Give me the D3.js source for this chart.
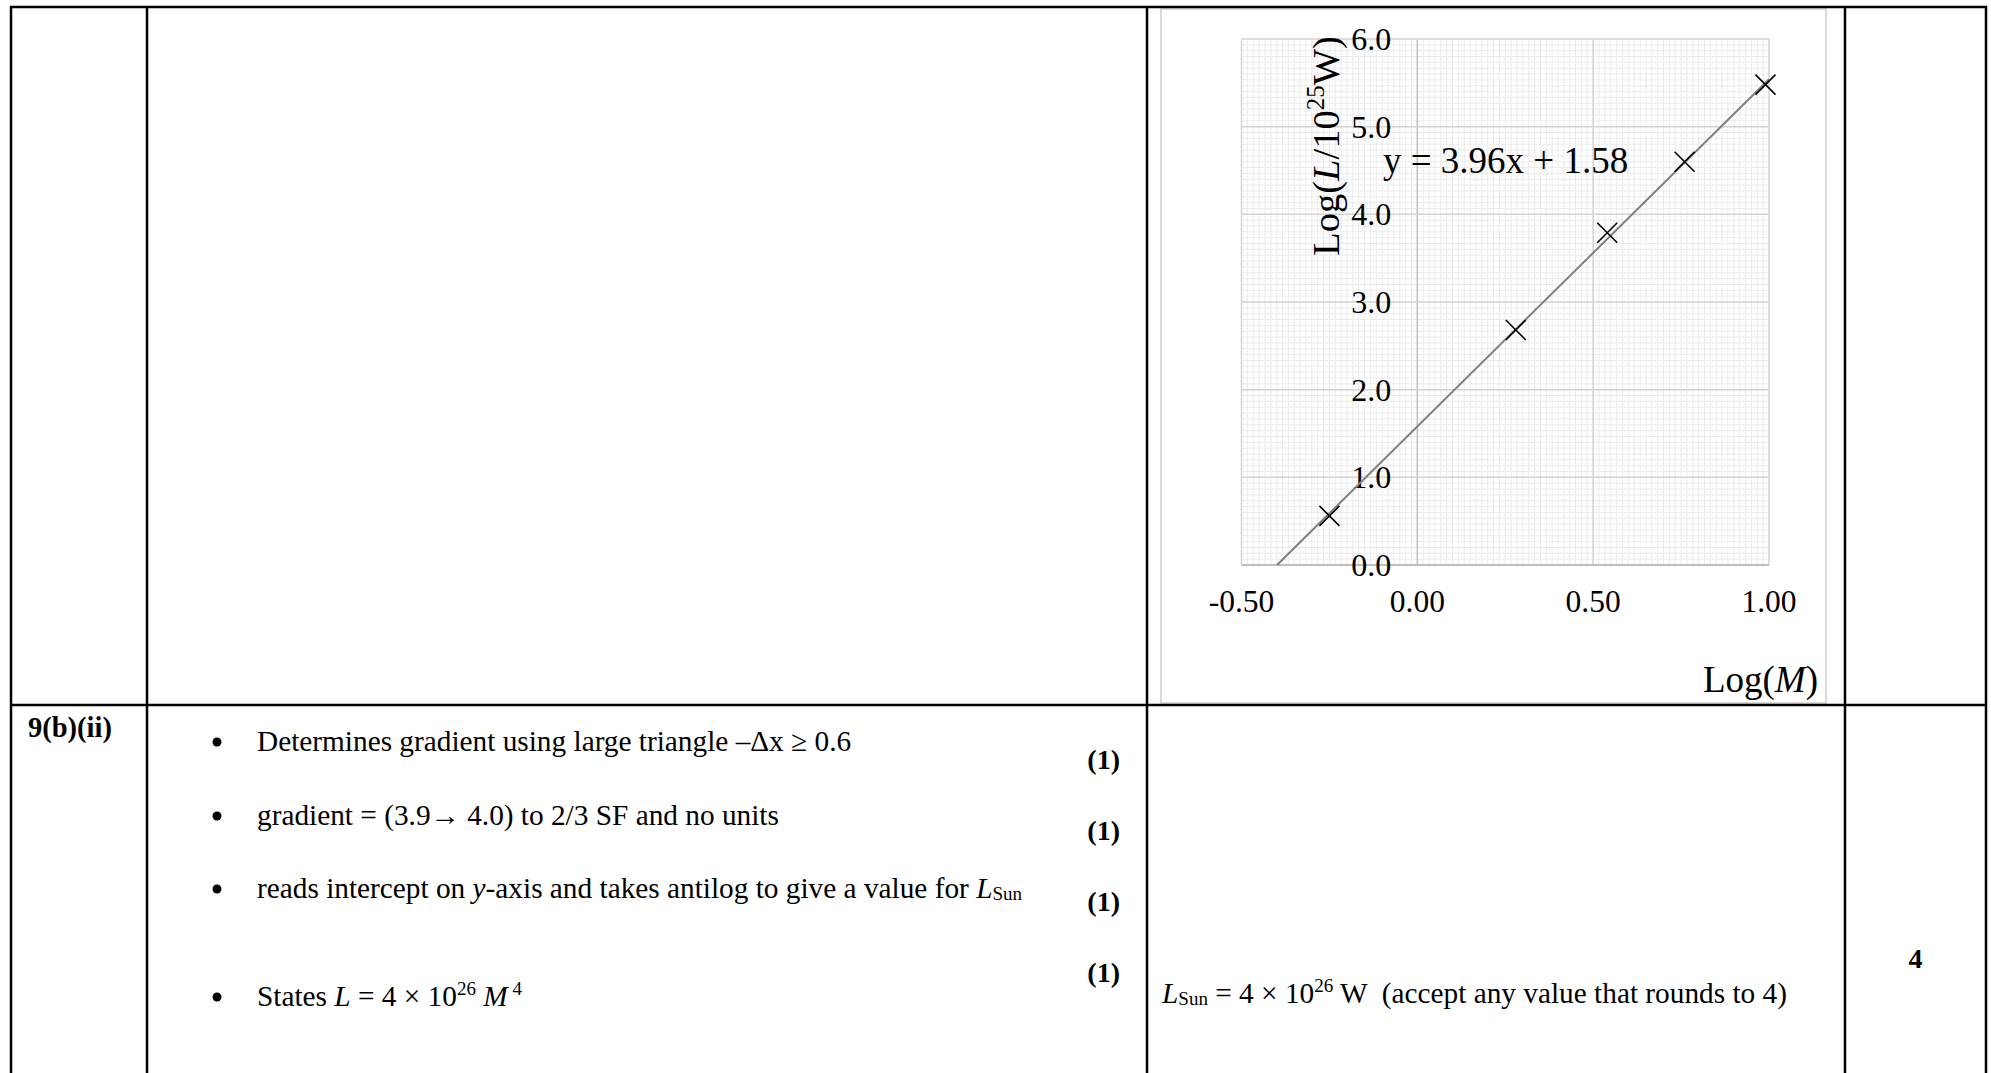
<!DOCTYPE html>
<html>
<head>
<meta charset="utf-8">
<script src="https://cdn.jsdelivr.net/npm/d3@7"></script>
<style>
  html, body { margin: 0; padding: 0; background: #fff; }
  svg { display: block; }
  text { font-family: "Liberation Serif", "Times New Roman", serif; fill: #000; white-space: pre; }
</style>
</head>
<body>
<div id="d3Container"></div>
<script>
// values
const logM = [-0.25, 0.28, 0.54, 0.76, 0.99];
const logL = [0.56, 2.68, 3.79, 4.60, 5.48];
const fitSlope = 3.96;
const fitIntercept = 1.58;

const xTicks = [-0.5, 0, 0.5, 1.0];
const yTicks = [0, 1, 2, 3, 4, 5, 6];
const xMinorStep = 1 / 60;
const yMinorStep = 1 / 15;

const questionLabel = '9(b)(ii)';
const marks = ['(1)', '(1)', '(1)', '(1)'];
const totalMark = '4';
const criteria = [
  [{t: 'Determines gradient using large triangle –Δx ≥ 0.6'}],
  [{t: 'gradient = (3.9→ 4.0) to 2/3 SF and no units'}],
  [{t: 'reads intercept on '}, {t: 'y', i: 1}, {t: '-axis and takes antilog to give a value for '}, {t: 'L', i: 1}, {t: 'Sun', sub: 1}],
  [{t: 'States '}, {t: 'L', i: 1}, {t: ' = 4 × 10'}, {t: '26', sup: 1}, {t: ' '}, {t: 'M', i: 1}, {t: ' 4', sup: 1}]
];
const answer = [{t: 'L', i: 1}, {t: 'Sun', sub: 1}, {t: ' = 4 × 10'}, {t: '26', sup: 1}, {t: ' W  (accept any value that rounds to 4)'}];

const W = 1991, H = 1073;
const svg = d3.select('#d3Container').append('svg')
  .attr('width', W)
  .attr('height', H);

const fmt = f => d => d3.format(f)(d).replace('−', '-');

function richText(parent, segs, x, y, size, anchor) {
  const t = parent.append('text')
    .attr('x', x).attr('y', y)
    .attr('text-anchor', anchor || 'start')
    .style('font-size', size + 'px');
  let shift = 0;
  segs.forEach(s => {
    const sp = t.append('tspan').text(s.t);
    let target = 0;
    if (s.sup) target = -size * 0.38;
    if (s.sub) target = size * 0.08;
    if (target - shift !== 0) sp.attr('dy', target - shift);
    shift = target;
    if (s.sup || s.sub) sp.style('font-size', (size * 0.65) + 'px');
    if (s.i) sp.style('font-style', 'italic');
    if (s.b) sp.style('font-weight', 'bold');
  });
  return t;
}

// ---- chart ----
const chart = svg.append('g');
chart.append('rect')
  .attr('x', 1161).attr('y', 9)
  .attr('width', 665).attr('height', 694)
  .attr('fill', '#fff')
  .attr('stroke', '#d9d9d9')
  .attr('stroke-width', 2);

const [px0, px1, py0, py1] = [1241.5, 1769, 565, 39];
const x = d3.scaleLinear().domain([xTicks[0], xTicks[xTicks.length - 1]]).range([px0, px1]);
const y = d3.scaleLinear().domain([yTicks[0], yTicks[yTicks.length - 1]]).range([py0, py1]);

const xMinor = d3.range(x.domain()[0], x.domain()[1] + 1e-9, xMinorStep);
const yMinor = d3.range(y.domain()[0], y.domain()[1] + 1e-9, yMinorStep);

chart.append('g').selectAll('line').data(xMinor).join('line')
  .attr('x1', d => x(d)).attr('x2', d => x(d))
  .attr('y1', py0).attr('y2', py1)
  .attr('stroke', '#ebebeb').attr('stroke-width', 1);
chart.append('g').selectAll('line').data(yMinor).join('line')
  .attr('x1', px0).attr('x2', px1)
  .attr('y1', d => y(d)).attr('y2', d => y(d))
  .attr('stroke', '#ebebeb').attr('stroke-width', 1);

chart.append('g').selectAll('line').data(xTicks).join('line')
  .attr('x1', d => x(d)).attr('x2', d => x(d))
  .attr('y1', py0).attr('y2', py1)
  .attr('stroke', d => d === 0 ? '#bfbfbf' : '#d4d4d4').attr('stroke-width', 1.5);
chart.append('g').selectAll('line').data(yTicks).join('line')
  .attr('x1', px0).attr('x2', px1)
  .attr('y1', d => y(d)).attr('y2', d => y(d))
  .attr('stroke', d => d === 0 ? '#bfbfbf' : '#d4d4d4').attr('stroke-width', d => d === 0 ? 2 : 1.5);

// tick labels (y axis crosses at x = 0)
chart.append('g').selectAll('text').data(yTicks).join('text')
  .attr('x', x(0) - 26)
  .attr('y', d => y(d) + 11)
  .attr('text-anchor', 'end')
  .style('font-size', '32px')
  .text(fmt('.1f'));
chart.append('g').selectAll('text').data(xTicks).join('text')
  .attr('x', d => x(d))
  .attr('y', 612)
  .attr('text-anchor', 'middle')
  .style('font-size', '31.5px')
  .text(fmt('.2f'));

// trendline
const xStart = -fitIntercept / fitSlope;
const xEnd = x.domain()[1];
chart.append('line')
  .attr('x1', x(xStart)).attr('y1', y(fitSlope * xStart + fitIntercept))
  .attr('x2', x(xEnd)).attr('y2', y(fitSlope * xEnd + fitIntercept))
  .attr('stroke', '#7f7f7f').attr('stroke-width', 2);

// markers
const pts = logM.map((m, i) => [m, logL[i]]);
chart.append('g').selectAll('path').data(pts).join('path')
  .attr('transform', d => `translate(${x(d[0])},${y(d[1])})`)
  .attr('d', 'M-10,-10L10,10M-10,10L10,-10')
  .attr('fill', 'none')
  .attr('stroke', '#000')
  .attr('stroke-width', 1.6);

// equation
chart.append('text')
  .attr('x', 1383).attr('y', 173)
  .style('font-size', '37px')
  .text(`y = ${fitSlope}x + ${fitIntercept}`);

// axis titles
const yTitle = chart.append('g').attr('transform', 'translate(1339,146) rotate(-90)');
richText(yTitle, [{t: 'Log('}, {t: 'L', i: 1}, {t: '/10'}, {t: '25', sup: 1}, {t: 'W)'}], 0, 0, 38.5, 'middle');
richText(chart, [{t: 'Log('}, {t: 'M', i: 1}, {t: ')'}], 1818, 692, 37, 'end');

// ---- table ----
const colX = [11, 147, 1147, 1845, 1986];
const rowY = [7, 705];
const rules = svg.append('g').attr('stroke', '#000').attr('stroke-width', 2.5);
rules.selectAll('line.v').data(colX).join('line')
  .attr('x1', d => d).attr('x2', d => d)
  .attr('y1', rowY[0] - 1).attr('y2', H + 5);
rules.selectAll('line.h').data(rowY).join('line')
  .attr('x1', colX[0] - 1).attr('x2', colX[4] + 1)
  .attr('y1', d => d).attr('y2', d => d);

svg.append('text')
  .attr('x', 28).attr('y', 737)
  .style('font-size', '28.5px').style('font-weight', 'bold')
  .text(questionLabel);

const lineY = [751, 825, 898, 1006];
const markY = [768.5, 839.5, 910.5, 981.5];
const body = svg.append('g');
criteria.forEach((segs, i) => {
  body.append('circle')
    .attr('cx', 217).attr('cy', lineY[i] - 9)
    .attr('r', 4.5)
    .attr('fill', '#000');
  richText(body, segs, 257, lineY[i], 29.3, 'start');
});
body.selectAll('text.mark').data(marks).join('text')
  .attr('x', 1120).attr('y', (d, i) => markY[i])
  .attr('text-anchor', 'end')
  .style('font-size', '28px').style('font-weight', 'bold')
  .text(d => d);

richText(svg, answer, 1162, 1003, 29.3, 'start');

svg.append('text')
  .attr('x', (colX[3] + colX[4]) / 2).attr('y', 968)
  .attr('text-anchor', 'middle')
  .style('font-size', '28px').style('font-weight', 'bold')
  .text(totalMark);
</script>
</body>
</html>
